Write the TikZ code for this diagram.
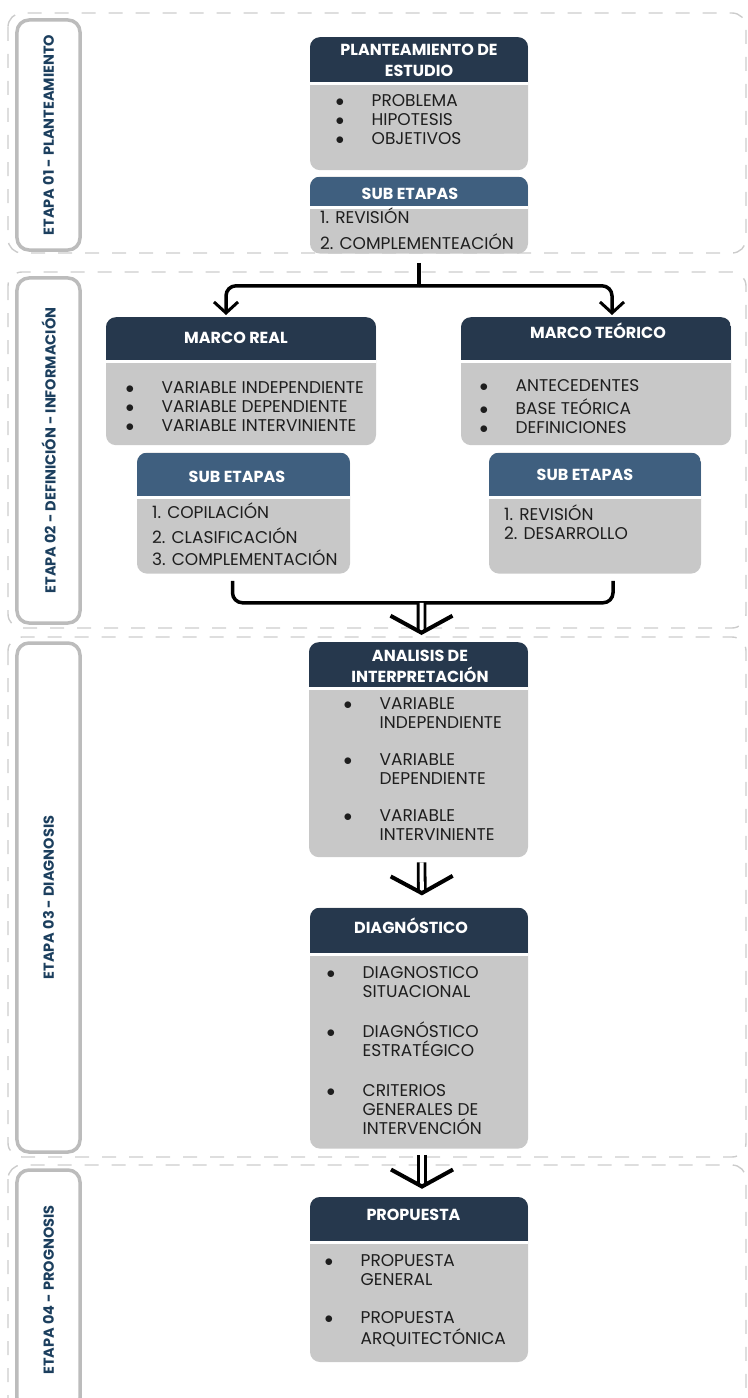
\documentclass[tikz,border=0pt]{standalone}
\usepackage{fontspec}
\setmainfont{Poppins}
\usepackage{tikz}
\usetikzlibrary{arrows.meta, positioning, calc}
\usepackage{xcolor}
\definecolor{hdrnavy}{HTML}{26384D}
\definecolor{hdrsteel}{HTML}{3F5F7F}
\definecolor{cardgray}{HTML}{C8C8C8}
\definecolor{bodytext}{HTML}{1E1E1E}
\definecolor{etapatext}{HTML}{1C3F5E}
\definecolor{etapaline}{HTML}{BCBCBC}
\definecolor{bandline}{HTML}{CCCCCC}
\newlength{\bulw}\setlength{\bulw}{36bp}
\newcommand{\bul}[1]{\makebox[\bulw][l]{$\bullet$}#1}
\newcommand{\cnt}[1]{\hspace*{\bulw}#1}
\tikzstyle{dblarrow} = [
    draw=black,
    line width=2.8bp,
    double=white,
    double distance=4bp,
    -{Straight Barb[length=17bp, width=62bp, line width=4bp]}
]

\begin{document}
\begin{tikzpicture}[
    x=1bp, y=-1bp,
    card/.style 2 args={
        fill=cardgray,
        rounded corners=10bp,
        inner sep=0pt,
        anchor=north,
        path picture={
            \fill[#2, sharp corners] (path picture bounding box.north west) rectangle ([yshift=-#1]path picture bounding box.north east);
            \draw[white, line width=3bp, sharp corners] ([yshift=-#1-1.5bp]path picture bounding box.north west) -- ([yshift=-#1-1.5bp]path picture bounding box.north east);
        }
    },
    ttl/.style={
        text=white,
        align=center,
        inner sep=0pt,
        font=\bfseries\fontsize{16bp}{21bp}\selectfont
    },
    items/.style={
        anchor=north west,
        align=left,
        inner sep=0pt,
        text=bodytext,
        font=\fontsize{17bp}{19bp}\selectfont
    },
    etapa/.style={
        draw=etapaline,
        line width=3.5bp,
        rounded corners=12bp,
        rotate=90,
        inner sep=0pt,
        text=etapatext,
        font=\bfseries\fontsize{14.5bp}{17bp}\selectfont
    },
    band/.style={
        draw=bandline,
        line width=1.4bp,
        dash pattern=on 14bp off 13bp,
        rounded corners=14bp
    },
    link/.style={
        draw=black,
        line width=3.5bp,
        rounded corners=10bp
    },
    arr/.style={
        -{Straight Barb[length=11bp, width=24bp, line width=3bp]},
        shorten >=2bp
    }
]
\useasboundingbox (0,0) rectangle (747,1398);

% Bands
\draw[band] (8,13) rectangle (746,253);
\draw[band] (8,272) rectangle (746,628);
\draw[band] (8,637) rectangle (746,1157);
\draw[band] (8,1165) rectangle (746,1420);

% Etapas
\node[etapa, minimum width=230bp, minimum height=63bp] (etapa1) at (48.5,135) {ETAPA 01 - PLANTEAMIENTO};
\node[etapa, minimum width=345bp, minimum height=63bp] (etapa2) at (48.5,450.5) {ETAPA 02 - DEFINICIÓN - INFORMACIÓN};
\node[etapa, minimum width=509bp, minimum height=63bp] (etapa3) at (48.5,897.5) {ETAPA 03 - DIAGNOSIS};
\node[etapa, minimum width=240bp, minimum height=63bp] (etapa4) at (48.5,1290) {ETAPA 04 - PROGNOSIS};

% Nodes
\node[card={45bp}{hdrnavy}, minimum width=218bp, minimum height=133bp] (plant) at (419,37) {};
\node[card={29bp}{hdrsteel}, minimum width=218bp, minimum height=77bp, below=6bp of plant] (plantsub) {};
\node[card={43bp}{hdrnavy}, minimum width=270bp, minimum height=128bp] (real) at (241,317) {};
\node[card={43bp}{hdrnavy}, minimum width=270bp, minimum height=128bp] (teo) at (596,317) {};
\node[card={43bp}{hdrsteel}, minimum width=213bp, minimum height=121bp, below=7bp of real, xshift=2.5bp] (realsub) {};
\node[card={43bp}{hdrsteel}, minimum width=212bp, minimum height=121bp, below=7bp of teo, xshift=-1bp] (teosub) {};
\node[card={45bp}{hdrnavy}, minimum width=219bp, minimum height=215bp] (anal) at (418.5,642) {};
\node[card={45bp}{hdrnavy}, minimum width=218bp, minimum height=241bp, below=50bp of anal, xshift=0.5bp] (diag) {};
\node[card={44bp}{hdrnavy}, minimum width=218bp, minimum height=165bp, below=48bp of diag] (prop) {};

% Titles
\node[ttl] (plant-t) at (419,60) {PLANTEAMIENTO DE\\ESTUDIO};
\node[ttl, anchor=base] (plantsub-t) at (410,199.6) {SUB ETAPAS};
\node[ttl, anchor=base] (real-t) at (236,343.6) {MARCO REAL};
\node[ttl, anchor=base] (teo-t) at (598,338.6) {MARCO TEÓRICO};
\node[ttl, anchor=base] (realsub-t) at (237,482.6) {SUB ETAPAS};
\node[ttl, anchor=base] (teosub-t) at (585,480.6) {SUB ETAPAS};
\node[ttl] (anal-t) at (420,666) {ANALISIS DE\\INTERPRETACIÓN};
\node[ttl, anchor=base] (diag-t) at (411,933.6) {DIAGNÓSTICO};
\node[ttl, anchor=base] (prop-t) at (413.5,1220.6) {PROPUESTA};

% Items
\node[items] (plant-i) at (335.5,92.6) {\strut\bul{PROBLEMA}\\\bul{HIPOTESIS}\\\bul{OBJETIVOS}};
\node[items] (plantsub-i) at (320,207.6) {\strut 1. REVISIÓN\\[3bp]2. COMPLEMENTEACIÓN};
\node[items] (real-i) at (125.5,379.6) {\strut\bul{VARIABLE INDEPENDIENTE}\\\bul{VARIABLE DEPENDIENTE}\\\bul{VARIABLE INTERVINIENTE}};
\node[items] (teo-i) at (479.5,377.6) {\strut\bul{ANTECEDENTES}\\[1bp]\bul{BASE TEÓRICA}\\\bul{DEFINICIONES}};
\node[items] (realsub-i) at (152,502.6) {\strut 1. COPILACIÓN\\[2.5bp]2. CLASIFICACIÓN\\[2.5bp]3. COMPLEMENTACIÓN};
\node[items] (teosub-i) at (504,504.6) {\strut 1. REVISIÓN\\2. DESARROLLO};
\node[items] (anal-i) at (343.5,695.6) {\strut\bul{VARIABLE}\\\cnt{INDEPENDIENTE}\\[18bp]\bul{VARIABLE}\\\cnt{DEPENDIENTE}\\[18bp]\bul{VARIABLE}\\\cnt{INTERVINIENTE}};
\node[items] (diag-i) at (326.5,964.6) {\strut\bul{DIAGNOSTICO}\\\cnt{SITUACIONAL}\\[21bp]\bul{DIAGNÓSTICO}\\\cnt{ESTRATÉGICO}\\[21bp]\bul{CRITERIOS}\\\cnt{GENERALES DE}\\\cnt{INTERVENCIÓN}};
\node[items] (prop-i) at (324.5,1252.6) {\strut\bul{PROPUESTA}\\\cnt{GENERAL}\\[19bp]\bul{PROPUESTA}\\[2bp]\cnt{ARQUITECTÓNICA}};

% Edges
\coordinate (fork) at ([yshift=-32bp]plantsub.south);
\draw[link] ([yshift=-9bp]plantsub.south) -- (fork);
\draw[link, arr] (fork) -| ([xshift=-15bp]real.north);
\draw[link, arr] (fork) -| ([xshift=16bp]teo.north);
\draw[link] ([xshift=-11bp,yshift=-7bp]realsub.south) -- ++(0,22) coordinate (join) -| ([xshift=18bp,yshift=-7bp]teosub.south);
\draw[dblarrow, shorten >=7bp] ($(anal.north |- join)+(3,0)$) -- ([xshift=3bp]anal.north);
\draw[dblarrow, shorten <=5bp, shorten >=12bp] ([xshift=3bp]anal.south) -- ([xshift=3bp]diag.north);
\draw[dblarrow, shorten <=6bp, shorten >=8bp] ([xshift=3bp]diag.south) -- ([xshift=3bp]prop.north);

\end{tikzpicture}
\end{document}
